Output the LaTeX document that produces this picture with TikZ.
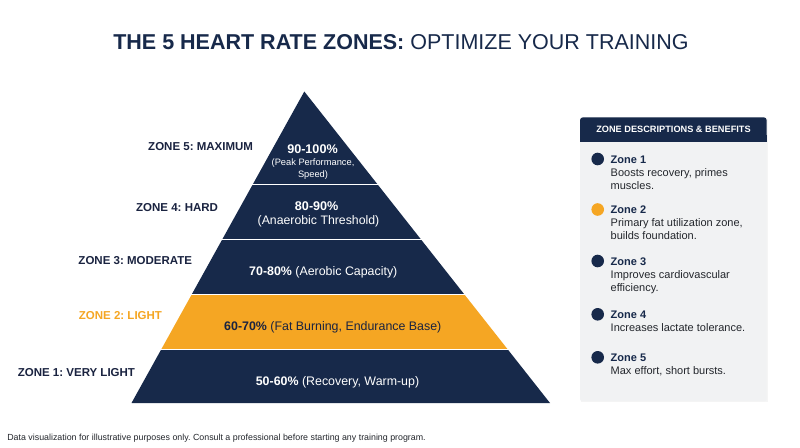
\documentclass[tikz,border=0pt]{standalone}
\usepackage{fontspec}
\setmainfont{Liberation Sans}
\usetikzlibrary{calc}
\definecolor{navy}{HTML}{17294A}
\definecolor{zorange}{HTML}{F5A623}
\definecolor{labelc}{HTML}{1A2340}
\definecolor{panelbg}{HTML}{F1F2F3}
\definecolor{bodyc}{HTML}{23262C}
\newcommand{\fsz}[1]{\fontsize{#1}{#1}\selectfont}
\frenchspacing
\begin{document}
\begin{tikzpicture}[x=1pt,y=-1pt,
  every node/.style={inner sep=0pt,outer sep=0pt},
  zlabel/.style={anchor=base east,font=\fsz{11.5}\bfseries,text=labelc},
  ptext/.style={anchor=base,text=white},
  ptitle/.style={anchor=base west,font=\fsz{11}\bfseries,text=navy},
  pbody/.style={anchor=base west,font=\fsz{11},text=bodyc},
  bullet/.style={circle,minimum size=12.6pt,fill=navy}]
\useasboundingbox (0,0) rectangle (800,447);
\fill[white] (0,0) rectangle (800,447);

% title
\node[anchor=base,font=\fsz{21.5},text=navy] (title) at (401,49.3)
  {\textbf{THE 5 HEART RATE ZONES:} OPTIMIZE YOUR TRAINING};

% pyramid
\coordinate (A) at (304.3,91.5);
\coordinate (L) at (131.5,403);
\coordinate (R) at (550,403);
\foreach \ya/\yb/\col in {91/183/navy,185.5/238/navy,240.5/293/navy,295.5/348/zorange,350.5/403/navy}{
  \begin{scope}
    \clip (0,\ya) rectangle (800,\yb);
    \fill[\col] (A) -- (L) -- (R) -- cycle;
  \end{scope}
}

% band texts
\node[ptext,font=\fsz{12.6}\bfseries] (z5a) at (312.5,153.5) {90-100\%};
\node[ptext,font=\fsz{9.3}] (z5b) at (313,165.3) {(Peak Performance,};
\node[ptext,font=\fsz{9.3}] (z5c) at (313,177) {Speed)};
\node[ptext,font=\fsz{12.6}\bfseries] (z4a) at (316.7,210.5) {80-90\%};
\node[ptext,font=\fsz{12.3}] (z4b) at (318.5,224.7) {(Anaerobic Threshold)};
\node[ptext,font=\fsz{12.4}] (z3) at (323.3,275.5) {\textbf{70-80\%} (Aerobic Capacity)};
\node[ptext,font=\fsz{12.4},text=labelc] (z2) at (332.8,330.5) {\textbf{60-70\%} (Fat Burning, Endurance Base)};
\node[ptext,font=\fsz{12.4}] (z1) at (337.5,385.5) {\textbf{50-60\%} (Recovery, Warm-up)};

% zone labels
\node[zlabel] (l5) at (253,150.8) {ZONE 5: MAXIMUM};
\node[zlabel] (l4) at (218,211.1) {ZONE 4: HARD};
\node[zlabel] (l3) at (192,264.1) {ZONE 3: MODERATE};
\node[zlabel,text=zorange] (l2) at (162,319.1) {ZONE 2: LIGHT};
\node[zlabel] (l1) at (135,376.8) {ZONE 1: VERY LIGHT};

% panel
\fill[black!4] (581,118.5) rectangle (767.7,402.3);
\fill[panelbg,rounded corners=2pt] (580,117.3) rectangle (766.7,401);
\fill[navy,rounded corners=3pt] (580,141.7) -- (580,117.3) -- (766.7,117.3) -- (766.7,141.7) -- cycle;
\fill[navy] (580,135) rectangle (766.7,141.7);
\node[anchor=base,font=\fsz{9.2}\bfseries,text=white] (ph) at (673.5,132.6) {ZONE DESCRIPTIONS \& BENEFITS};

\node[bullet] (b1) at (597.7,159) {};
\node[ptitle] (t1) at (610.7,163) {Zone 1};
\node[pbody] (d1a) at (610.7,176.5) {Boosts recovery, primes};
\node[pbody] (d1b) at (610.7,189) {muscles.};

\node[bullet,fill=zorange] (b2) at (597.7,209.5) {};
\node[ptitle] (t2) at (610.7,213.5) {Zone 2};
\node[pbody] (d2a) at (610.7,226.7) {Primary fat utilization zone,};
\node[pbody] (d2b) at (610.7,239) {builds foundation.};

\node[bullet] (b3) at (597.7,261) {};
\node[ptitle] (t3) at (610.7,265) {Zone 3};
\node[pbody] (d3a) at (610.7,278.5) {Improves cardiovascular};
\node[pbody] (d3b) at (610.7,291) {efficiency.};

\node[bullet] (b4) at (597.7,314.3) {};
\node[ptitle] (t4) at (610.7,318.3) {Zone 4};
\node[pbody] (d4a) at (610.7,331.7) {Increases lactate tolerance.};

\node[bullet] (b5) at (597.7,357.3) {};
\node[ptitle] (t5) at (610.7,361.3) {Zone 5};
\node[pbody] (d5a) at (610.7,374) {Max effort, short bursts.};

% footer
\node[anchor=base west,font=\fsz{8.85},text=bodyc] (foot) at (7.3,440)
  {Data visualization for illustrative purposes only. Consult a professional before starting any training program.};
\end{tikzpicture}
\end{document}
